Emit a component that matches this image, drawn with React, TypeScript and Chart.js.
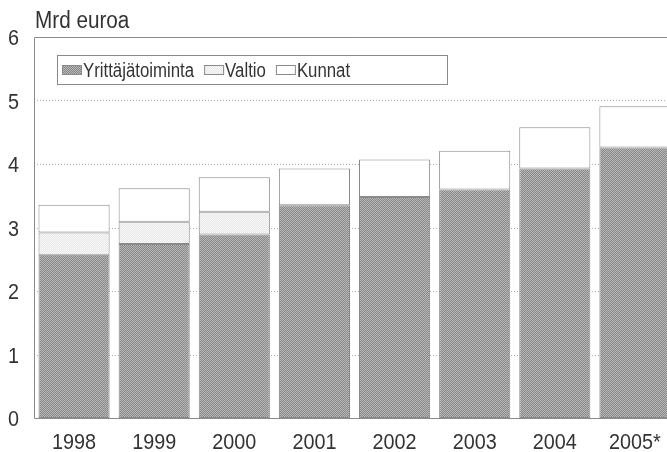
import React, { useEffect, useRef } from "react";
import { Chart, registerables } from "chart.js";

Chart.register(...registerables);

const years = ["1998", "1999", "2000", "2001", "2002", "2003", "2004", "2005*"];
const yrittajatoiminta = [2.57, 2.74, 2.89, 3.35, 3.48, 3.60, 3.93, 4.26];
const valtio = [0.35, 0.35, 0.36, 0, 0, 0, 0, 0];
const kunnat = [0.44, 0.53, 0.54, 0.58, 0.59, 0.61, 0.65, 0.65];
const seriesNames = ["Yrittäjätoiminta", "Valtio", "Kunnat"];
const yTicks = [0, 1, 2, 3, 4, 5, 6];
const unitLabel = "Mrd euroa";

const FONT = "'Liberation Sans', Arial, sans-serif";

function makePattern(a: string, b: string): CanvasPattern | string {
  const c = document.createElement("canvas");
  c.width = 2;
  c.height = 2;
  const ctx = c.getContext("2d");
  if (!ctx) return a;
  ctx.fillStyle = a;
  ctx.fillRect(0, 0, 2, 2);
  ctx.fillStyle = b;
  ctx.fillRect(0, 0, 1, 1);
  ctx.fillRect(1, 1, 1, 1);
  const p = ctx.createPattern(c, "repeat");
  return p || a;
}

function narrowText(ctx: CanvasRenderingContext2D, text: string, x: number, y: number, k: number) {
  ctx.save();
  ctx.translate(x, y);
  ctx.scale(k, 1);
  ctx.fillText(text, 0, 0);
  ctx.restore();
}

export default function App() {
  const ref = useRef<HTMLCanvasElement | null>(null);

  useEffect(() => {
    const canvas = ref.current;
    if (!canvas) return;
    const darkFill = makePattern("#888888", "#b8b8b8");
    const lightFill = makePattern("#e8e8e8", "#f8f8f8");
    const fills = [darkFill, lightFill, "#ffffff"];

    const gridPlugin = {
      id: "customGrid",
      beforeDatasetsDraw(chart: any) {
        const { ctx, chartArea } = chart;
        const y = chart.scales.y;
        ctx.save();
        ctx.lineWidth = 1;
        ctx.strokeStyle = "#b0b0b0";
        ctx.setLineDash([1, 2]);
        yTicks.forEach((v) => {
          if (v === 0 || v === 6) return;
          const py = Math.round(y.getPixelForValue(v)) + 0.5;
          ctx.beginPath();
          ctx.moveTo(chartArea.left, py);
          ctx.lineTo(chartArea.right, py);
          ctx.stroke();
        });
        ctx.setLineDash([]);
        ctx.strokeStyle = "#8a8a8a";
        const top = Math.round(y.getPixelForValue(6)) + 0.5;
        const bottom = Math.round(y.getPixelForValue(0)) + 0.5;
        const left = Math.round(chartArea.left) + 0.5;
        ctx.beginPath();
        ctx.moveTo(chartArea.right, top);
        ctx.lineTo(left, top);
        ctx.lineTo(left, bottom);
        ctx.lineTo(chartArea.right, bottom);
        ctx.stroke();
        ctx.restore();
      },
    };

    const textPlugin = {
      id: "titleLegend",
      afterDraw(chart: any) {
        const { ctx } = chart;
        const xs = chart.scales.x;
        const ys = chart.scales.y;
        ctx.save();
        ctx.fillStyle = "#333333";
        // unit title
        ctx.font = "23px " + FONT;
        ctx.textAlign = "left";
        ctx.textBaseline = "alphabetic";
        narrowText(ctx, unitLabel, 35, 28, 0.9);
        // axis labels
        ctx.font = "22px " + FONT;
        ctx.textBaseline = "middle";
        ctx.textAlign = "right";
        yTicks.forEach((v) => {
          narrowText(ctx, String(v), 19, ys.getPixelForValue(v) + 2, 0.9);
        });
        ctx.textAlign = "center";
        years.forEach((lab, i) => {
          narrowText(ctx, lab, xs.getPixelForValue(i), 443, 0.9);
        });
        // legend box
        const bx = 57.5, by = 55.5, bw = 390, bh = 29;
        ctx.fillStyle = "#ffffff";
        ctx.fillRect(bx, by, bw, bh);
        ctx.strokeStyle = "#8a8a8a";
        ctx.lineWidth = 1;
        ctx.strokeRect(bx, by, bw, bh);
        ctx.font = "20px " + FONT;
        ctx.textAlign = "left";
        ctx.textBaseline = "middle";
        let x = 62;
        const cy = by + bh / 2;
        chart.data.datasets.forEach((ds: any) => {
          ctx.fillStyle = ds.backgroundColor;
          ctx.fillRect(x, cy - 5, 20, 10);
          ctx.strokeStyle = "#8a8a8a";
          ctx.strokeRect(x + 0.5, cy - 4.5, 19, 9);
          ctx.fillStyle = "#333333";
          narrowText(ctx, ds.label, x + 21, cy + 1, 0.84);
          const w = ctx.measureText(ds.label).width * 0.84;
          x += 21 + w + 10;
        });
        ctx.restore();
      },
    };

    const chart = new Chart(canvas, {
      type: "bar",
      data: {
        labels: years,
        datasets: [yrittajatoiminta, valtio, kunnat].map((d, i) => ({
          label: seriesNames[i],
          data: d,
          backgroundColor: fills[i] as any,
          borderColor: "#8a8a8a",
          borderWidth: 1,
          borderSkipped: false,
          barPercentage: 0.8875,
          categoryPercentage: 1,
        })),
      },
      options: {
        animation: false,
        responsive: false,
        devicePixelRatio: 1,
        layout: { padding: { top: 37, left: 0, right: 5, bottom: 0 } },
        plugins: {
          legend: { display: false },
          tooltip: { enabled: false },
          title: { display: false },
        },
        scales: {
          x: {
            stacked: true,
            grid: { display: false, drawTicks: false },
            border: { display: false },
            ticks: { display: false, autoSkip: false },
            afterFit(scale: any) {
              scale.height = 34;
            },
          },
          y: {
            stacked: true,
            min: 0,
            max: 6,
            grid: { display: false, drawTicks: false },
            border: { display: false },
            ticks: { display: false, stepSize: 1 },
            afterFit(scale: any) {
              scale.width = 34;
            },
          },
        },
      },
      plugins: [gridPlugin, textPlugin],
    });
    return () => chart.destroy();
  }, []);

  return (
    <div
      style={{
        position: "fixed",
        left: 0,
        top: 0,
        width: 667,
        height: 452,
        overflow: "hidden",
        background: "#ffffff",
      }}
    >
      <canvas ref={ref} width={680} height={452} style={{ display: "block", width: 680, height: 452 }} />
    </div>
  );
}
